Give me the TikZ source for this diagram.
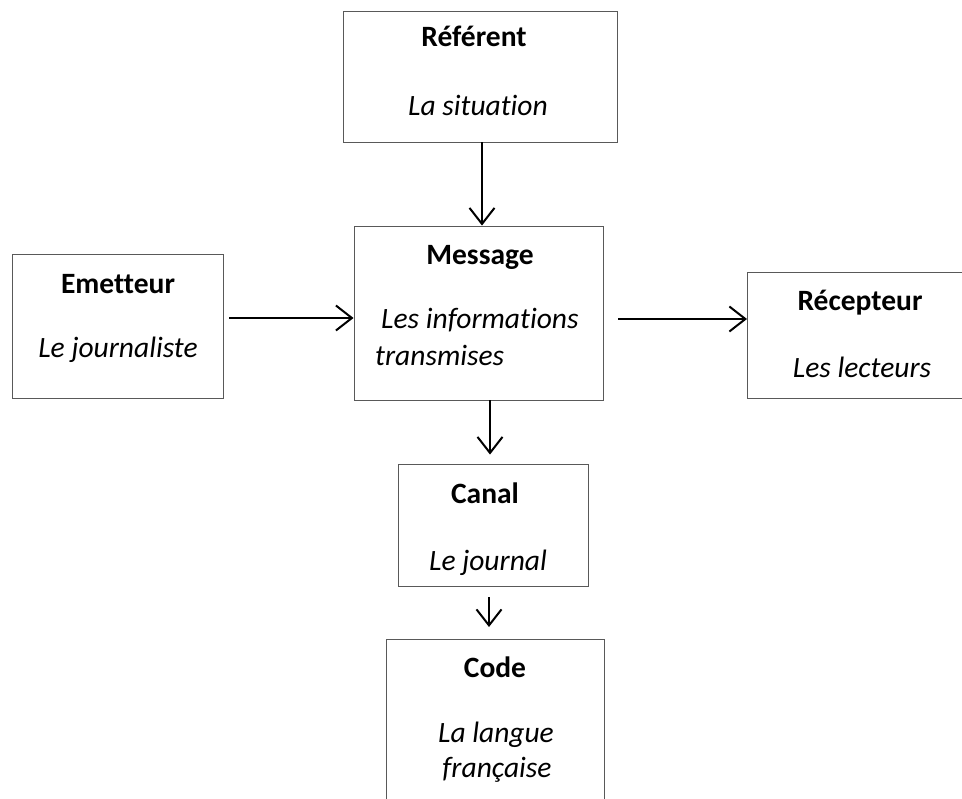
\documentclass[tikz,border=0pt]{standalone}
\usepackage{fontspec}
\setmainfont{Carlito}[Ligatures={NoCommon,NoRare,NoContextual}]
\usetikzlibrary{arrows.meta}
\begin{document}
\begin{tikzpicture}[x=1bp,y=-1bp,
  box/.style={draw=black!65,line width=0.9bp,inner sep=0pt},
  ttl/.style={anchor=base,inner sep=0pt,font=\fontsize{29.5bp}{37bp}\selectfont\bfseries},
  sub/.style={anchor=base,inner sep=0pt,font=\fontsize{29.5bp}{37bp}\selectfont\itshape},
  arr/.style={line width=2.2bp,-{Straight Barb[length=16bp,width=25bp,line width=2bp]}}]
\useasboundingbox (0,0) rectangle (962,799);
% boxes
\node[box,minimum width=274bp,minimum height=131bp] (ref) at (480,76.5) {};
\node[box,minimum width=211bp,minimum height=144bp] (emet) at (117.5,326) {};
\node[box,minimum width=249bp,minimum height=174bp] (msg) at (478.5,313) {};
\node[box,minimum width=218bp,minimum height=126bp,anchor=north west] (rec) at (747,272) {};
\node[box,minimum width=190bp,minimum height=122bp] (canal) at (493,525) {};
\node[box,minimum width=218bp,minimum height=166bp,anchor=north west] (code) at (386,639) {};
% texts
\node[ttl] (t1) at (474,47) {Référent};
\node[sub] (s1) at (478,115) {La situation};
\node[ttl] (t2) at (118,293) {Emetteur};
\node[sub] (s2) at (118,357) {Le journaliste};
\node[ttl] (t3) at (480,264) {Message};
\node[sub,anchor=base west] (s3) at (381,328) {Les informations};
\node[sub,anchor=base west] (s3b) at (375,365) {transmises};
\node[ttl] (t4) at (860,310) {Récepteur};
\node[sub] (s4) at (862,377) {Les lecteurs};
\node[ttl] (t5) at (485,503) {Canal};
\node[sub] (s5) at (488,570) {Le journal};
\node[ttl] (t6) at (495,677) {Code};
\node[sub] (s6) at (496,742) {La langue};
\node[sub] (s6b) at (497,777) {française};
% arrows
\draw[arr] (ref.south -| 482,0) -- (msg.north -| 482,0);
\draw[arr,shorten <=6bp] (emet.east |- 0,318) -- (msg.west |- 0,318);
\draw[arr,shorten <=15bp] (msg.east |- 0,319) -- (rec.west |- 0,319);
\draw[arr,shorten >=9bp] (msg.south -| 490,0) -- (canal.north -| 490,0);
\draw[arr,shorten <=11bp,shorten >=12bp] (canal.south -| 489,0) -- (code.north -| 489,0);
\end{tikzpicture}
\end{document}
